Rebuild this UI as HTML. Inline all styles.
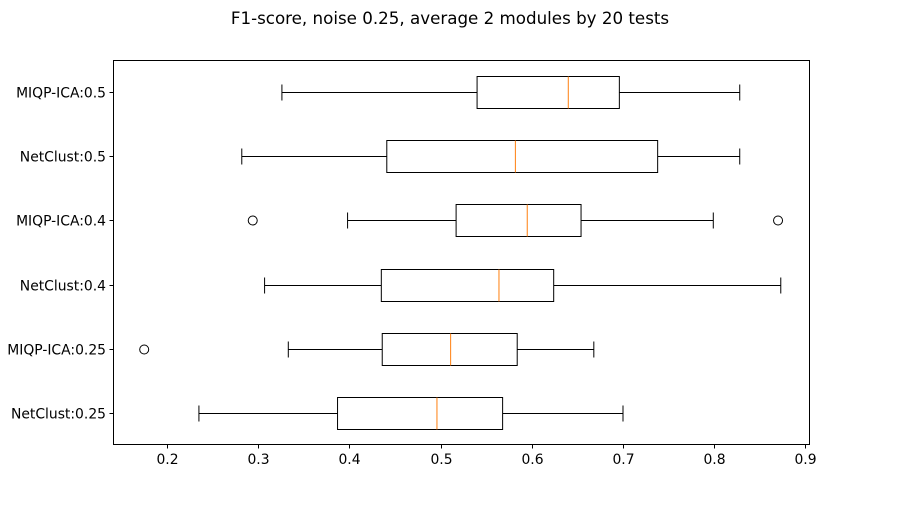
<!DOCTYPE html>
<html><head><meta charset="utf-8"><style>
html,body{margin:0;padding:0;background:#fff;}
svg text{font-family:"DejaVu Sans","Liberation Sans",sans-serif;}
</style></head><body>
<svg id="chart" width="900" height="500" xmlns="http://www.w3.org/2000/svg">
<text x="450" y="24" text-anchor="middle" font-size="16.7">F1-score, noise 0.25, average 2 modules by 20 tests</text>
<rect x="113.5" y="60.5" width="696" height="384" fill="none" stroke="#000" stroke-width="1"/>
<g id="marks"></g>
<g id="axes"></g>
</svg>
<script>
const categories = ["MIQP-ICA:0.5","NetClust:0.5","MIQP-ICA:0.4","NetClust:0.4","MIQP-ICA:0.25","NetClust:0.25"];
const whiskerLow = [0.326,0.282,0.398,0.307,0.333,0.235];
const q1 = [0.540,0.441,0.517,0.435,0.436,0.387];
const medians = [0.640,0.582,0.595,0.564,0.511,0.496];
const q3 = [0.696,0.738,0.654,0.624,0.584,0.568];
const whiskerHigh = [0.828,0.828,0.799,0.873,0.668,0.700];
const fliers = [[],[],[0.294,0.870],[],[0.175],[]];
const xTicks = [0.2,0.3,0.4,0.5,0.6,0.7,0.8,0.9];

const NS="http://www.w3.org/2000/svg";
const plotTop=60, plotBottom=445, plotLeft=113, plotRight=810;
const rowH=(plotBottom-plotTop)/categories.length;
function xs(v){return 440.6+(v-0.5)*912;}
function ys(i){return plotTop+(i+0.5)*rowH;}
const marks=document.getElementById('marks');
const axes=document.getElementById('axes');
function mk(tag,attrs,parent){const e=document.createElementNS(NS,tag);for(const k in attrs)e.setAttribute(k,attrs[k]);parent.appendChild(e);return e;}
const bh=32, cap=8;
categories.forEach((c,i)=>{
  const y=Math.round(ys(i))+0.5;
  const g=mk('g',{},marks);
  
  
  mk('line',{x1:xs(whiskerLow[i]),x2:xs(q1[i]),y1:y,y2:y,stroke:'#000'},g);
  mk('line',{x1:xs(q3[i]),x2:xs(whiskerHigh[i]),y1:y,y2:y,stroke:'#000'},g);
  mk('line',{x1:xs(whiskerLow[i]),x2:xs(whiskerLow[i]),y1:y-cap,y2:y+cap,stroke:'#000'},g);
  mk('line',{x1:xs(whiskerHigh[i]),x2:xs(whiskerHigh[i]),y1:y-cap,y2:y+cap,stroke:'#000'},g);
  mk('rect',{x:xs(q1[i]),y:y-bh/2,width:xs(q3[i])-xs(q1[i]),height:bh,fill:'none',stroke:'#000'},g);
  mk('line',{x1:xs(medians[i]),x2:xs(medians[i]),y1:y-bh/2,y2:y+bh/2,stroke:'#ff7f0e'},g);
  fliers[i].forEach(f=>{
    const cEl=mk('circle',{cx:xs(f),cy:y,r:4.5,fill:'none',stroke:'#000'},g);
    
    
  });
  mk('line',{x1:plotLeft-3.5,x2:plotLeft,y1:y,y2:y,stroke:'#000'},axes);
  const t=mk('text',{x:plotLeft-7,y:y+5,'text-anchor':'end','font-size':13.9},axes);
  t.textContent=c;
  
  
});
xTicks.forEach(v=>{
  const x=Math.round(xs(v))+0.5;
  mk('line',{x1:x,x2:x,y1:plotBottom,y2:plotBottom+3.5,stroke:'#000'},axes);
  const t=mk('text',{x:x,y:plotBottom+19,'text-anchor':'middle','font-size':13.9},axes);
  t.textContent=v.toFixed(1);
  
  
});
</script>
</body></html>
